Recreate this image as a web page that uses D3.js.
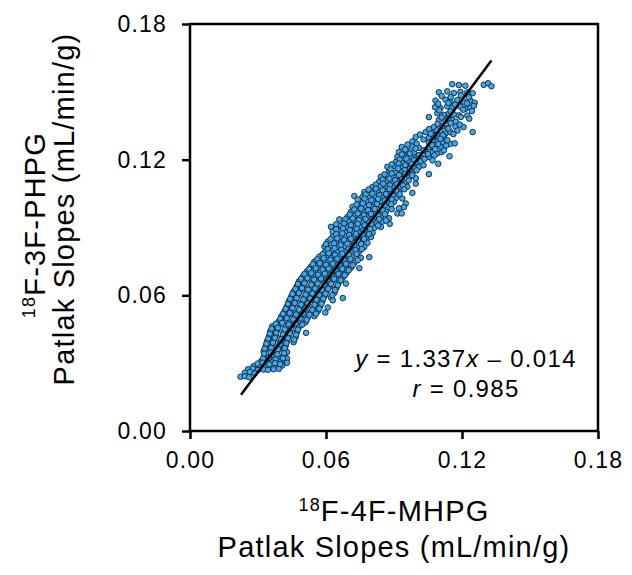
<!DOCTYPE html>
<html>
<head>
<meta charset="utf-8">
<script src="https://cdn.jsdelivr.net/npm/d3@7"></script>
<style>
  body { margin: 0; background: #fff; }
  svg { display: block; font-family: "Liberation Sans", Arial, Helvetica, sans-serif; }
</style>
</head>
<body>
<div id="chart"></div>
<script>
// patlak slopes, [18F-4F-MHPG, 18F-3F-PHPG] in mL/min/g
const slopePairs = [
  [0.1157,0.1534],[0.1186,0.1530],[0.1215,0.1527],[0.1296,0.1531],[0.1315,0.1538],[0.1330,0.1525],
  [0.1098,0.1498],[0.1135,0.1502],[0.1164,0.1495],[0.1193,0.1500],[0.1223,0.1497],[0.1247,0.1494],
  [0.1083,0.1461],[0.1127,0.1465],[0.1149,0.1458],[0.1179,0.1463],[0.1208,0.1456],[0.1237,0.1462],[0.1256,0.1452],
  [0.1081,0.1432],[0.1105,0.1428],[0.1135,0.1436],[0.1157,0.1430],[0.1193,0.1434],[0.1215,0.1425],[0.1237,0.1430],[0.1252,0.1438],
  [0.1054,0.1388],[0.1091,0.1405],[0.1120,0.1398],[0.1142,0.1404],[0.1164,0.1400],[0.1186,0.1396],[0.1223,0.1395],[0.1232,0.1381],
  [0.1098,0.1375],[0.1127,0.1370],[0.1157,0.1376],[0.1172,0.1368],
  [0.1076,0.1344],[0.1113,0.1348],[0.1135,0.1340],[0.1171,0.1346],[0.1207,0.1344],
  [0.1040,0.1322],[0.1069,0.1318],[0.1105,0.1325],[0.1127,0.1316],[0.1149,0.1322],[0.1247,0.1322],
  [0.0996,0.1300],[0.1054,0.1296],[0.1076,0.1304],[0.1098,0.1298],[0.1120,0.1302],
  [0.0981,0.1280],[0.1054,0.1276],[0.1091,0.1281],[0.1113,0.1274],[0.1149,0.1270],[0.1168,0.1272],
  [0.0934,0.1256],[0.0981,0.1258],[0.1010,0.1252],[0.1054,0.1256],[0.1076,0.1250],[0.1105,0.1258],
  [0.0922,0.1234],[0.0959,0.1238],[0.0988,0.1231],[0.1040,0.1236],[0.1069,0.1232],[0.1091,0.1228],[0.1110,0.1234],[0.1145,0.1215],
  [0.0915,0.1212],[0.0944,0.1216],[0.0974,0.1209],[0.1003,0.1214],[0.1025,0.1208],[0.1054,0.1212],
  [0.0908,0.1190],[0.0937,0.1186],[0.0966,0.1193],[0.0996,0.1188],[0.1018,0.1192],[0.1095,0.1182],
  [0.0871,0.1168],[0.0900,0.1172],[0.0930,0.1165],[0.0959,0.1170],[0.0988,0.1164],[0.1010,0.1168],[0.1054,0.1136],
  [0.0878,0.1146],[0.0908,0.1142],[0.0937,0.1149],[0.0959,0.1144],[0.0981,0.1140],
  [0.0842,0.1124],[0.0871,0.1128],[0.0908,0.1121],[0.0937,0.1126],[0.0966,0.1120],[0.0996,0.1118],
  [0.0834,0.1101],[0.0864,0.1105],[0.0893,0.1098],[0.0922,0.1103],[0.0952,0.1097],[0.0996,0.1094],
  [0.0805,0.1079],[0.0842,0.1083],[0.0871,0.1076],[0.0900,0.1081],[0.0930,0.1075],[0.0959,0.1080],
  [0.0769,0.1057],[0.0798,0.1061],[0.0834,0.1054],[0.0864,0.1059],[0.0893,0.1053],[0.0922,0.1058],[0.0981,0.1053],
  [0.0725,0.1039],[0.0761,0.1035],[0.0791,0.1031],[0.0820,0.1037],[0.0849,0.1032],[0.0878,0.1036],[0.0908,0.1030],[0.0937,0.1028],
  [0.0754,0.1013],[0.0783,0.1016],[0.0813,0.1010],[0.0842,0.1015],[0.0871,0.1009],[0.0900,0.1013],[0.0952,0.1006],
  [0.0717,0.0992],[0.0747,0.0988],[0.0776,0.0995],[0.0805,0.0990],[0.0842,0.0994],[0.0871,0.0987],[0.0922,0.0985],[0.0944,0.0990],
  [0.0710,0.0969],[0.0739,0.0973],[0.0769,0.0966],[0.0798,0.0971],[0.0827,0.0965],[0.0864,0.0970],[0.0915,0.0962],[0.0934,0.0962],
  [0.0695,0.0947],[0.0725,0.0951],[0.0754,0.0944],[0.0783,0.0949],[0.0813,0.0943],[0.0842,0.0948],[0.0878,0.0941],
  [0.0659,0.0936],[0.0703,0.0925],[0.0732,0.0929],[0.0761,0.0922],[0.0791,0.0927],[0.0820,0.0921],[0.0849,0.0926],[0.0881,0.0916],
  [0.0622,0.0903],[0.0666,0.0907],[0.0695,0.0900],[0.0725,0.0905],[0.0754,0.0899],[0.0783,0.0904],[0.0813,0.0898],[0.0842,0.0902],
  [0.0630,0.0881],[0.0659,0.0885],[0.0688,0.0878],[0.0717,0.0883],[0.0747,0.0877],[0.0776,0.0882],[0.0805,0.0876],
  [0.0630,0.0859],[0.0659,0.0855],[0.0688,0.0862],[0.0717,0.0857],[0.0747,0.0861],[0.0776,0.0854],[0.0798,0.0858],
  [0.0608,0.0837],[0.0637,0.0841],[0.0666,0.0834],[0.0695,0.0839],[0.0725,0.0833],[0.0754,0.0838],[0.0783,0.0832],
  [0.0593,0.0815],[0.0622,0.0811],[0.0652,0.0818],[0.0681,0.0813],[0.0710,0.0817],[0.0739,0.0810],[0.0769,0.0814],
  [0.0597,0.0793],[0.0622,0.0797],[0.0652,0.0790],[0.0688,0.0795],[0.0717,0.0789],[0.0747,0.0794],
  [0.0571,0.0771],[0.0600,0.0775],[0.0630,0.0768],[0.0659,0.0773],[0.0688,0.0767],[0.0717,0.0772],[0.0754,0.0766],[0.0791,0.0769],
  [0.0549,0.0749],[0.0578,0.0753],[0.0608,0.0746],[0.0637,0.0751],[0.0666,0.0745],[0.0695,0.0750],[0.0725,0.0744],
  [0.0534,0.0727],[0.0564,0.0731],[0.0593,0.0724],[0.0622,0.0729],[0.0652,0.0723],[0.0681,0.0728],[0.0710,0.0722],[0.0747,0.0720],
  [0.0515,0.0705],[0.0545,0.0709],[0.0574,0.0702],[0.0603,0.0707],[0.0632,0.0701],[0.0662,0.0706],[0.0691,0.0700],
  [0.0498,0.0683],[0.0527,0.0687],[0.0556,0.0680],[0.0586,0.0685],[0.0615,0.0679],[0.0644,0.0684],[0.0674,0.0678],
  [0.0480,0.0661],[0.0510,0.0665],[0.0539,0.0658],[0.0568,0.0663],[0.0597,0.0657],[0.0627,0.0662],[0.0656,0.0656],[0.0688,0.0652],
  [0.0471,0.0639],[0.0501,0.0643],[0.0530,0.0636],[0.0559,0.0641],[0.0589,0.0635],[0.0618,0.0640],[0.0647,0.0634],
  [0.0457,0.0617],[0.0486,0.0621],[0.0515,0.0614],[0.0545,0.0619],[0.0574,0.0613],[0.0603,0.0618],[0.0637,0.0612],
  [0.0447,0.0595],[0.0476,0.0599],[0.0505,0.0592],[0.0534,0.0597],[0.0564,0.0591],[0.0593,0.0596],[0.0622,0.0590],[0.0674,0.0588],[0.0630,0.0578],
  [0.0436,0.0573],[0.0466,0.0577],[0.0495,0.0570],[0.0524,0.0575],[0.0553,0.0569],[0.0583,0.0574],
  [0.0428,0.0551],[0.0457,0.0555],[0.0486,0.0548],[0.0515,0.0553],[0.0545,0.0547],[0.0574,0.0552],[0.0608,0.0546],
  [0.0417,0.0529],[0.0447,0.0533],[0.0476,0.0526],[0.0505,0.0531],[0.0534,0.0525],[0.0564,0.0530],[0.0597,0.0524],
  [0.0403,0.0507],[0.0432,0.0511],[0.0461,0.0504],[0.0491,0.0509],[0.0520,0.0503],[0.0549,0.0508],
  [0.0392,0.0485],[0.0422,0.0489],[0.0451,0.0482],[0.0480,0.0487],[0.0510,0.0481],
  [0.0363,0.0463],[0.0392,0.0467],[0.0422,0.0460],[0.0451,0.0465],[0.0480,0.0459],[0.0512,0.0434],
  [0.0354,0.0441],[0.0384,0.0445],[0.0413,0.0438],[0.0442,0.0443],[0.0471,0.0437],
  [0.0349,0.0419],[0.0378,0.0423],[0.0407,0.0416],[0.0436,0.0421],[0.0466,0.0415],
  [0.0340,0.0397],[0.0369,0.0401],[0.0398,0.0394],[0.0428,0.0399],[0.0457,0.0393],
  [0.0334,0.0375],[0.0363,0.0379],[0.0392,0.0372],[0.0422,0.0377],
  [0.0325,0.0353],[0.0354,0.0357],[0.0384,0.0350],[0.0413,0.0355],[0.0428,0.0349],
  [0.0329,0.0331],[0.0359,0.0335],[0.0388,0.0328],[0.0417,0.0333],[0.0428,0.0320],
  [0.0315,0.0309],[0.0337,0.0313],[0.0366,0.0306],[0.0403,0.0311],[0.0428,0.0302],
  [0.0281,0.0287],[0.0305,0.0291],[0.0329,0.0284],[0.0359,0.0289],[0.0384,0.0285],[0.0407,0.0290],
  [0.0256,0.0273],[0.0278,0.0276],[0.0300,0.0270],[0.0325,0.0272],[0.0344,0.0271],[0.0369,0.0273],[0.0392,0.0275],
  [0.0242,0.0258],[0.0264,0.0261],[0.0286,0.0255],
  [0.0223,0.0240],[0.0242,0.0242],[0.0261,0.0238]
];

// second pass over the band, points lying between the rows above
const slopePairsInner = [
  [0.1110,0.1482],[0.1150,0.1477],[0.1195,0.1484],[0.1230,0.1476],
  [0.1095,0.1447],[0.1140,0.1451],[0.1170,0.1443],[0.1222,0.1449],
  [0.1100,0.1418],[0.1150,0.1414],[0.1205,0.1421],[0.1244,0.1415],
  [0.1110,0.1387],[0.1140,0.1382],[0.1195,0.1389],
  [0.1092,0.1358],[0.1150,0.1362],[0.1190,0.1355],
  [0.1055,0.1335],[0.1090,0.1330],[0.1140,0.1337],[0.1180,0.1329],
  [0.1015,0.1311],[0.1062,0.1315],[0.1115,0.1308],[0.1162,0.1313],
  [0.1030,0.1289],[0.1070,0.1285],[0.1105,0.1292],[0.1135,0.1286],
  [0.0960,0.1267],[0.1000,0.1271],[0.1068,0.1264],[0.1095,0.1269],[0.1130,0.1262],
  [0.0950,0.1245],[0.0995,0.1249],[0.1030,0.1242],[0.1082,0.1247],[0.1120,0.1241],
  [0.0935,0.1223],[0.0970,0.1227],[0.1010,0.1220],[0.1050,0.1225],[0.1078,0.1219],
  [0.0925,0.1201],[0.0955,0.1205],[0.0988,0.1198],[0.1035,0.1203],[0.1070,0.1197],
  [0.0890,0.1179],[0.0920,0.1183],[0.0950,0.1176],[0.0978,0.1181],[0.1030,0.1175],
  [0.0885,0.1157],[0.0918,0.1161],[0.0948,0.1154],[0.0970,0.1159],[0.1000,0.1153],
  [0.0858,0.1135],[0.0890,0.1139],[0.0922,0.1132],[0.0950,0.1137],[0.0980,0.1131],
  [0.0850,0.1112],[0.0880,0.1116],[0.0905,0.1109],[0.0935,0.1114],[0.0965,0.1108],
  [0.0820,0.1090],[0.0852,0.1094],[0.0882,0.1087],[0.0912,0.1092],[0.0940,0.1086],
  [0.0788,0.1068],[0.0820,0.1072],[0.0850,0.1065],[0.0880,0.1070],[0.0910,0.1064],[0.0945,0.1069],
  [0.0775,0.1046],[0.0805,0.1050],[0.0835,0.1043],[0.0865,0.1048],[0.0895,0.1042],[0.0925,0.1047],
  [0.0740,0.1024],[0.0770,0.1028],[0.0800,0.1021],[0.0830,0.1026],[0.0860,0.1020],[0.0890,0.1025],
  [0.0735,0.1002],[0.0762,0.1006],[0.0790,0.0999],[0.0825,0.1004],[0.0858,0.0998],[0.0888,0.1003],
  [0.0725,0.0980],[0.0755,0.0984],[0.0785,0.0977],[0.0815,0.0982],[0.0850,0.0976],[0.0890,0.0981],
  [0.0705,0.0958],[0.0740,0.0962],[0.0768,0.0955],[0.0798,0.0960],[0.0830,0.0954],[0.0860,0.0959],
  [0.0685,0.0936],[0.0718,0.0940],[0.0745,0.0933],[0.0775,0.0938],[0.0805,0.0932],[0.0835,0.0937],[0.0865,0.0931],
  [0.0645,0.0914],[0.0680,0.0918],[0.0710,0.0911],[0.0740,0.0916],[0.0770,0.0910],[0.0800,0.0915],[0.0830,0.0909],
  [0.0645,0.0892],[0.0675,0.0896],[0.0705,0.0889],[0.0735,0.0894],[0.0765,0.0888],[0.0795,0.0893],
  [0.0645,0.0870],[0.0672,0.0874],[0.0702,0.0867],[0.0732,0.0872],[0.0762,0.0866],[0.0790,0.0871],
  [0.0620,0.0848],[0.0650,0.0852],[0.0680,0.0845],[0.0710,0.0850],[0.0740,0.0844],[0.0768,0.0849],
  [0.0600,0.0826],[0.0636,0.0830],[0.0665,0.0823],[0.0695,0.0828],[0.0725,0.0822],[0.0755,0.0827],
  [0.0608,0.0804],[0.0638,0.0808],[0.0668,0.0801],[0.0700,0.0806],[0.0730,0.0800],[0.0758,0.0805],
  [0.0585,0.0782],[0.0612,0.0786],[0.0640,0.0779],[0.0672,0.0784],[0.0702,0.0778],[0.0735,0.0783],
  [0.0562,0.0760],[0.0590,0.0764],[0.0620,0.0757],[0.0650,0.0762],[0.0680,0.0756],[0.0708,0.0761],[0.0740,0.0755],
  [0.0542,0.0738],[0.0572,0.0742],[0.0600,0.0735],[0.0630,0.0740],[0.0660,0.0734],[0.0688,0.0739],[0.0718,0.0733],
  [0.0525,0.0716],[0.0555,0.0720],[0.0585,0.0713],[0.0612,0.0718],[0.0642,0.0712],[0.0672,0.0717],[0.0700,0.0711],
  [0.0505,0.0694],[0.0535,0.0698],[0.0565,0.0691],[0.0595,0.0696],[0.0625,0.0690],[0.0655,0.0695],[0.0683,0.0689],
  [0.0490,0.0672],[0.0518,0.0676],[0.0548,0.0669],[0.0578,0.0674],[0.0607,0.0668],[0.0636,0.0673],[0.0665,0.0667],
  [0.0476,0.0650],[0.0505,0.0654],[0.0535,0.0647],[0.0563,0.0652],[0.0593,0.0646],[0.0622,0.0651],[0.0652,0.0645],
  [0.0465,0.0628],[0.0494,0.0632],[0.0522,0.0625],[0.0552,0.0630],[0.0582,0.0624],[0.0610,0.0629],[0.0640,0.0623],
  [0.0452,0.0606],[0.0480,0.0610],[0.0510,0.0603],[0.0540,0.0608],[0.0570,0.0602],[0.0598,0.0607],[0.0628,0.0601],
  [0.0442,0.0584],[0.0470,0.0588],[0.0500,0.0581],[0.0530,0.0586],[0.0558,0.0580],[0.0588,0.0585],
  [0.0432,0.0562],[0.0462,0.0566],[0.0490,0.0559],[0.0520,0.0564],[0.0550,0.0558],[0.0580,0.0563],
  [0.0422,0.0540],[0.0452,0.0544],[0.0481,0.0537],[0.0510,0.0542],[0.0540,0.0536],[0.0570,0.0541],
  [0.0410,0.0518],[0.0440,0.0522],[0.0468,0.0515],[0.0498,0.0520],[0.0527,0.0514],[0.0556,0.0519],
  [0.0398,0.0496],[0.0427,0.0500],[0.0456,0.0493],[0.0486,0.0498],[0.0515,0.0492],
  [0.0378,0.0474],[0.0407,0.0478],[0.0436,0.0471],[0.0466,0.0476],[0.0495,0.0470],
  [0.0360,0.0452],[0.0388,0.0456],[0.0418,0.0449],[0.0447,0.0454],[0.0476,0.0448],
  [0.0352,0.0430],[0.0380,0.0434],[0.0410,0.0427],[0.0440,0.0432],[0.0468,0.0426],
  [0.0345,0.0408],[0.0374,0.0412],[0.0402,0.0405],[0.0432,0.0410],[0.0460,0.0404],
  [0.0337,0.0386],[0.0366,0.0390],[0.0395,0.0383],[0.0425,0.0388],
  [0.0330,0.0364],[0.0358,0.0368],[0.0388,0.0361],[0.0418,0.0366],
  [0.0327,0.0342],[0.0356,0.0346],[0.0386,0.0339],[0.0415,0.0344],
  [0.0322,0.0320],[0.0348,0.0324],[0.0378,0.0317],[0.0410,0.0322],
  [0.0298,0.0298],[0.0320,0.0302],[0.0350,0.0295],[0.0375,0.0300],[0.0398,0.0296]
];

const axisTicks = [0, 0.06, 0.12, 0.18];
const fitSlope = 1.337;
const fitIntercept = -0.014;
const fitXRange = [0.0225, 0.133];
const fitR = 0.985;

const W = 632, H = 575;
const plot = { left: 190, right: 598, top: 24, bottom: 431 };

const svg = d3.select("#chart").append("svg")
    .attr("width", W)
    .attr("height", H);

const x = d3.scaleLinear().domain([0, 0.18]).range([plot.left, plot.right]);
const y = d3.scaleLinear().domain([0, 0.18]).range([plot.bottom, plot.top]);

// points
svg.append("g")
    .selectAll("circle")
    .data(slopePairs.concat(slopePairsInner))
    .join("circle")
    .attr("cx", d => x(d[0]))
    .attr("cy", d => y(d[1]))
    .attr("r", 2.8)
    .attr("fill", "#3ea8ee")
    .attr("stroke", "#142230")
    .attr("stroke-width", 0.9);

// regression line
svg.append("line")
    .attr("x1", x(fitXRange[0]))
    .attr("y1", y(fitSlope * fitXRange[0] + fitIntercept))
    .attr("x2", x(fitXRange[1]))
    .attr("y2", y(fitSlope * fitXRange[1] + fitIntercept))
    .attr("stroke", "#000")
    .attr("stroke-width", 2.5);

// axes
const fmt = d3.format(".2f");
const gx = svg.append("g")
    .attr("transform", `translate(0,${plot.bottom})`)
    .call(d3.axisBottom(x).tickValues(axisTicks).tickFormat(fmt).tickSize(8).tickSizeOuter(0).tickPadding(13));
const gy = svg.append("g")
    .attr("transform", `translate(${plot.left},0)`)
    .call(d3.axisLeft(y).tickValues(axisTicks).tickFormat(fmt).tickSize(8).tickSizeOuter(0).tickPadding(15));

[gx, gy].forEach(g => {
    g.select(".domain").remove();
    g.selectAll(".tick line").attr("stroke", "#000").attr("stroke-width", 2.5);
    g.selectAll(".tick text")
        .attr("fill", "#000")
        .style("font-size", "23px")
        .style("letter-spacing", "1.2px")
        .style("font-family", "'Liberation Sans', Arial, sans-serif");
});

// frame
svg.append("rect")
    .attr("x", plot.left)
    .attr("y", plot.top)
    .attr("width", plot.right - plot.left)
    .attr("height", plot.bottom - plot.top)
    .attr("fill", "none")
    .attr("stroke", "#000")
    .attr("stroke-width", 2.5);

// fit annotation
const ann = svg.append("text")
    .attr("text-anchor", "middle")
    .attr("font-size", 24)
    .style("letter-spacing", "1.3px");
const a1 = ann.append("tspan").attr("x", 466).attr("y", 367);
a1.append("tspan").attr("font-style", "italic").text("y");
a1.append("tspan").text(` = ${fitSlope.toFixed(3)}`);
a1.append("tspan").attr("font-style", "italic").text("x");
a1.append("tspan").text(` \u2013 ${Math.abs(fitIntercept).toFixed(3)}`);
const a2 = ann.append("tspan").attr("x", 466).attr("y", 397);
a2.append("tspan").attr("font-style", "italic").text("r");
a2.append("tspan").text(` = ${fitR.toFixed(3)}`);

// axis titles
function titleLine(sel, tracer) {
    sel.append("tspan").attr("font-size", "0.62em").attr("dy", "-0.55em").text("18");
    sel.append("tspan").attr("dy", "0.34em").text(tracer);
}

const midX = (plot.left + plot.right) / 2;
const xt = svg.append("text")
    .attr("text-anchor", "middle")
    .attr("font-size", 29)
    .style("letter-spacing", "1.2px");
titleLine(xt.append("tspan").attr("x", midX).attr("y", 521), "F-4F-MHPG");
xt.append("tspan").attr("x", midX).attr("y", 557).text("Patlak Slopes (mL/min/g)");

const yt = svg.append("text")
    .attr("text-anchor", "middle")
    .attr("font-size", 29)
    .style("letter-spacing", "1.2px")
    .attr("transform", "rotate(-90)");
titleLine(yt.append("tspan").attr("x", -225).attr("y", 45), "F-3F-PHPG");
yt.append("tspan").attr("x", -209).attr("y", 74).text("Patlak Slopes (mL/min/g)");
</script>
</body>
</html>
